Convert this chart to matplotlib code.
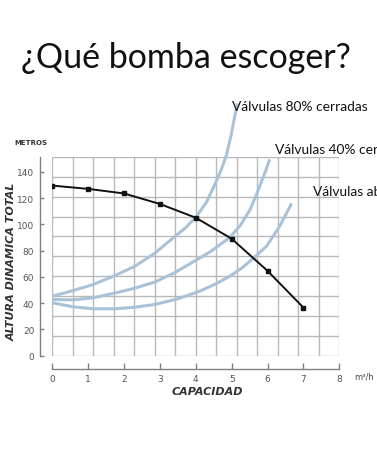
import matplotlib.pyplot as plt
import numpy as np

# pump curve (black)
pump_q = [0, 1, 2, 3, 4, 5, 6, 7]
pump_h = [129.5, 127, 123.5, 115.5, 105, 89, 64.5, 36.5]

# system curves (blue)
c80_q = [0, 0.58, 1.14, 1.75, 2.3, 2.86, 3.37, 3.7, 4.02, 4.3, 4.53, 4.7, 4.86, 5.0, 5.09, 5.16]
c80_h = [45.2, 49.5, 54.1, 61, 68, 78, 89.7, 97, 106, 117, 130.3, 141, 153.2, 170, 183, 192]

c40_q = [0, 0.58, 1.14, 1.75, 2.3, 2.86, 3.4, 3.84, 4.4, 4.95, 5.25, 5.51, 5.69, 5.83, 5.95, 6.06]
c40_h = [42.7, 42.4, 44, 47.6, 51.3, 56, 63, 70, 79, 90, 99.5, 111, 122.5, 132.5, 141, 149.5]

cab_q = [0, 0.58, 1.14, 1.75, 2.3, 2.86, 3.47, 4.11, 4.55, 4.95, 5.3, 5.6, 5.97, 6.34, 6.5, 6.67]
cab_h = [40.2, 37.1, 35.6, 35.6, 36.8, 38.9, 43, 49, 54.5, 60.4, 67, 74, 83.3, 98.6, 107, 116]

x_ticks = [0, 1, 2, 3, 4, 5, 6, 7, 8]
y_ticks = [0, 20, 40, 60, 80, 100, 120, 140]

W, H = 377, 452
fig = plt.figure(figsize=(W / 100, H / 100), dpi=100)
ax = fig.add_axes([52.3 / W, 1 - 356.5 / H, 287 / W, 198.5 / H])
ymax = 151.3
ax.set_xlim(0, 8)
ax.set_ylim(0, ymax)

# printed grid (not aligned to the tick values)
grid_c = '#b8b8b8'
ax.vlines(np.linspace(0, 8, 15), 0, ymax, colors=grid_c, lw=1.0, zorder=1)
ax.hlines(np.linspace(0, ymax, 11), 0, 8, colors=grid_c, lw=1.0, zorder=1)

blue = '#a9c2d8'
for q, h in [(c80_q, c80_h), (c40_q, c40_h), (cab_q, cab_h)]:
    ax.plot(q, h, color=blue, lw=2.2, clip_on=False, zorder=2,
            solid_capstyle='butt', solid_joinstyle='round')

ax.plot(pump_q, pump_h, color='#111111', lw=1.4, marker='s', ms=2.2, zorder=3)

# axes look
for s in ['top', 'right']:
    ax.spines[s].set_visible(False)
ax.spines['left'].set_position(('outward', 9))
ax.spines['bottom'].set_position(('outward', 9.5))
ax.spines['left'].set_bounds(0, ymax)
ax.spines['bottom'].set_bounds(0, 8)
for s in ['left', 'bottom']:
    ax.spines[s].set_color('#808080')
    ax.spines[s].set_linewidth(1.0)
ax.set_xticks(x_ticks)
ax.set_yticks(y_ticks)
ax.tick_params(axis='both', direction='in', colors='#808080', labelcolor='#555555',
               labelsize=6.5, length=4, width=1.0)
ax.tick_params(axis='x', pad=4)
ax.tick_params(axis='y', pad=4, length=3)

# texts
fig.text(186 / W, 1 - 58 / H, '¿Qué bomba escoger?', ha='center', va='center',
         fontsize=24.5, family='Lato', color='#111111')
fig.text(232 / W, 1 - 107 / H, 'Válvulas 80% cerradas', ha='left', va='center',
         fontsize=9.9, family='Lato', color='#111111')
fig.text(275 / W, 1 - 150 / H, 'Válvulas 40% cerradas', ha='left', va='center',
         fontsize=9.9, family='Lato', color='#111111')
fig.text(313 / W, 1 - 192 / H, 'Válvulas abiertas', ha='left', va='center',
         fontsize=9.9, family='Lato', color='#111111')
fig.text(14 / W, 1 - 143 / H, 'METROS', ha='left', va='center',
         fontsize=5, weight='bold', color='#333333')
fig.text(12 / W, 1 - 262 / H, 'ALTURA DINAMICA TOTAL', ha='center', va='center',
         rotation=90, fontsize=8, weight='bold', style='italic', color='#333333')
fig.text(207 / W, 1 - 392 / H, 'CAPACIDAD', ha='center', va='center',
         fontsize=8, weight='bold', style='italic', color='#333333')
fig.text(354 / W, 1 - 377 / H, 'm³/h', ha='left', va='center',
         fontsize=6, color='#444444')

fig.savefig('out.png', dpi=100)
